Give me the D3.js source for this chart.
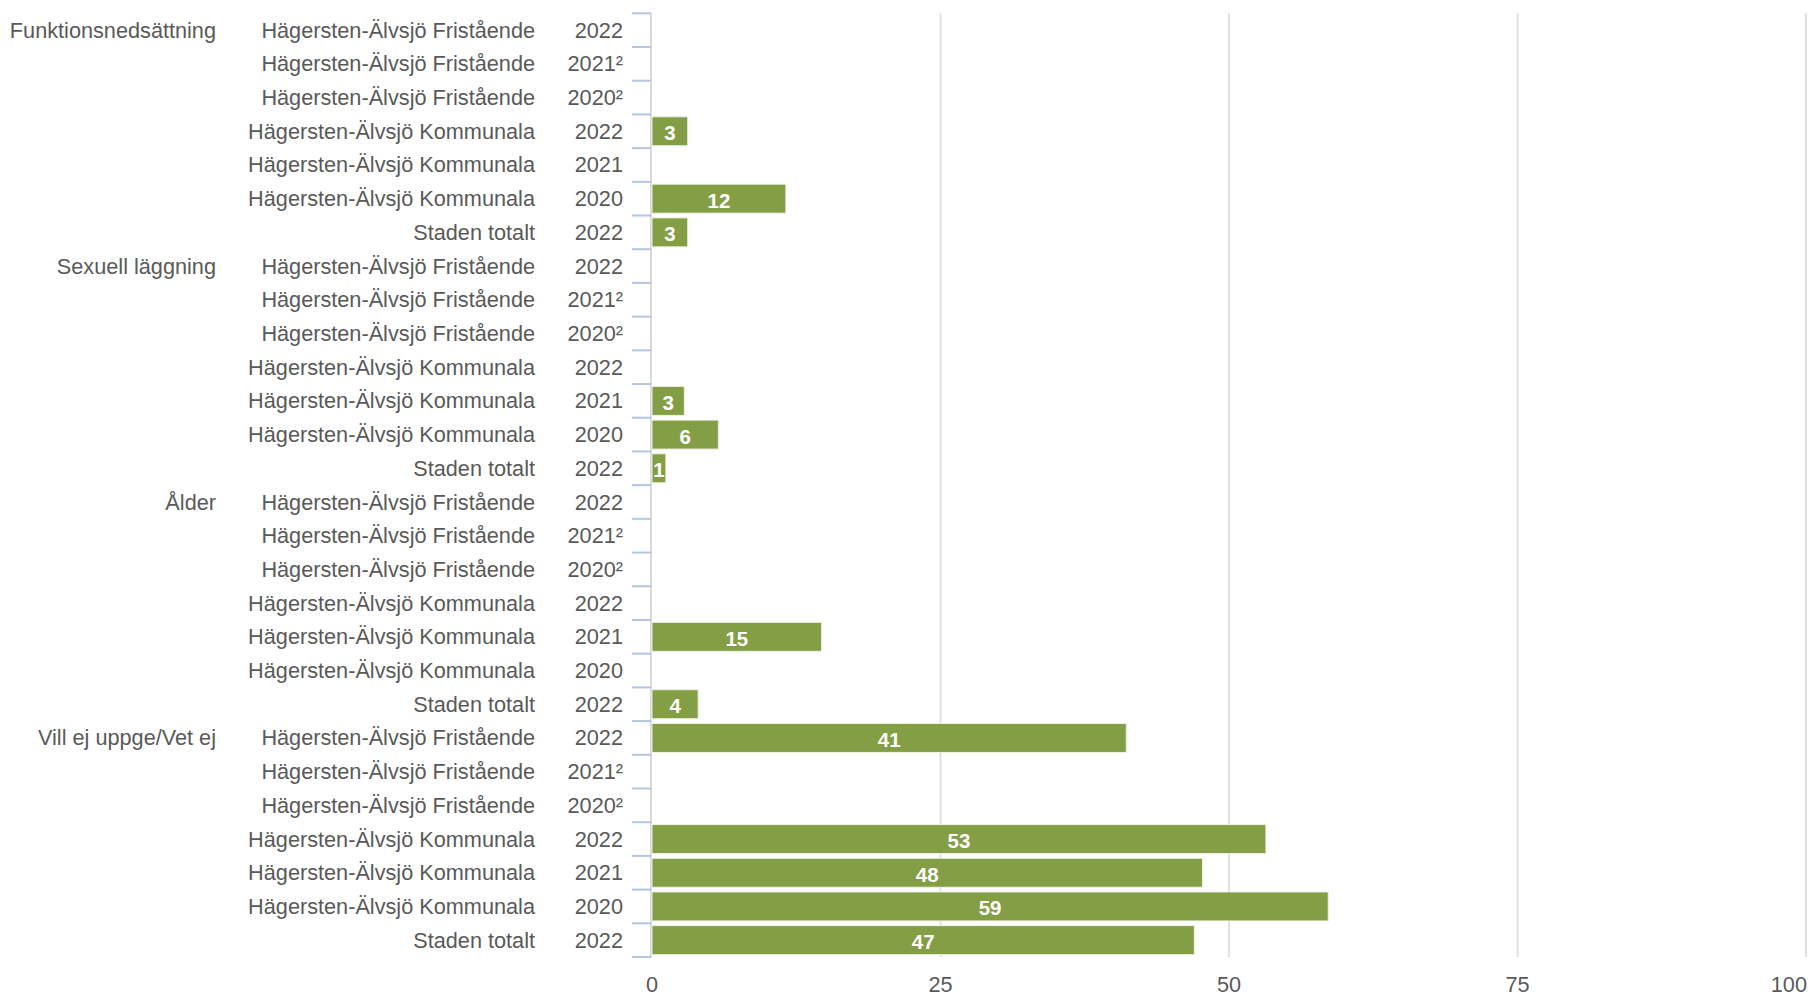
<!DOCTYPE html>
<html>
<head>
<meta charset="utf-8">
<script src="https://cdn.jsdelivr.net/npm/d3@7"></script>
<style>
  html, body { margin: 0; padding: 0; background: #fff; }
  svg text { font-family: Arial, "Liberation Sans", sans-serif; }
</style>
</head>
<body>
<svg id="chart" width="1810" height="997"></svg>
<script>
const groups = ["Funktionsnedsättning", "Sexuell läggning", "Ålder", "Vill ej uppge/Vet ej"];
const units = [
  "Hägersten-Älvsjö Fristående", "Hägersten-Älvsjö Fristående", "Hägersten-Älvsjö Fristående",
  "Hägersten-Älvsjö Kommunala", "Hägersten-Älvsjö Kommunala", "Hägersten-Älvsjö Kommunala",
  "Staden totalt"
];
const years = ["2022", "2021²", "2020²", "2022", "2021", "2020", "2022"];
const valsFunktion = [null, null, null, 3.1, null, 11.6, 3.1];
const valsSexuell  = [null, null, null, null, 2.8, 5.75, 1.2];
const valsAlder    = [null, null, null, null, 14.7, null, 4.0];
const valsVillEj   = [41.1, null, null, 53.2, 47.7, 58.6, 47.0];
const xTicks = [0, 25, 50, 75, 100];

const seriesByGroup = [valsFunktion, valsSexuell, valsAlder, valsVillEj];
const rows = [];
groups.forEach((g, gi) => {
  units.forEach((u, ui) => {
    rows.push({ id: gi + "-" + ui, group: g, first: ui === 0, unit: u, year: years[ui], value: seriesByGroup[gi][ui] });
  });
});

const svg = d3.select("#chart");
const x0 = 652, x1 = 1806;
const yTop = 13.3, yBot = 957;
const x = d3.scaleLinear().domain([0, 100]).range([x0, x1]);
const y = d3.scaleBand().domain(rows.map(d => d.id)).range([yTop, yBot]).paddingInner(0.14).paddingOuter(0.07);
const step = y.step();
const textColor = "#595959";
const fs = 21.7;

// gridlines
svg.append("g").selectAll("line").data(xTicks.filter(t => t > 0)).join("line")
  .attr("x1", d => x(d)).attr("x2", d => x(d))
  .attr("y1", yTop).attr("y2", yBot)
  .attr("stroke", "#e0e0e0").attr("stroke-width", 2);

// x axis tick labels
svg.append("g").selectAll("text").data(xTicks).join("text")
  .attr("x", d => d === 100 ? x(d) + 1 : x(d))
  .attr("y", 984)
  .attr("text-anchor", d => d === 100 ? "end" : "middle")
  .attr("dominant-baseline", "central")
  .attr("font-size", fs)
  .attr("fill", textColor)
  .text(d => d);

// category axis line
svg.append("line").attr("x1", x0 - 1).attr("x2", x0 - 1).attr("y1", yTop).attr("y2", yBot)
  .attr("stroke", "#d9d9d9").attr("stroke-width", 2);

// category tick marks (row boundaries)
const boundaries = d3.range(rows.length + 1).map(i => yTop + i * step);
svg.append("g").selectAll("line").data(boundaries).join("line")
  .attr("x1", x0 - 20).attr("x2", x0 - 1)
  .attr("y1", d => d).attr("y2", d => d)
  .attr("stroke", "#b4c5e4").attr("stroke-width", 2);

// bars
const barData = rows.filter(d => d.value != null);
svg.append("g").selectAll("rect").data(barData).join("rect")
  .attr("x", x(0))
  .attr("y", d => y(d.id))
  .attr("width", d => x(d.value) - x(0))
  .attr("height", y.bandwidth())
  .attr("fill", "#839e45")
  .attr("stroke", "#eef2e3").attr("stroke-width", 1);

// bar value labels
svg.append("g").selectAll("text").data(barData).join("text")
  .attr("x", d => (x(0) + x(d.value)) / 2)
  .attr("y", d => y(d.id) + y.bandwidth() / 2 + 1.5)
  .attr("text-anchor", "middle")
  .attr("dominant-baseline", "central")
  .attr("font-size", 20.5).attr("font-weight", "bold")
  .attr("fill", "#ffffff")
  .text(d => d3.format(".0f")(d.value));

// row labels
const rowMid = d => y(d.id) + y.bandwidth() / 2;
const lbl = svg.append("g").attr("font-size", fs).attr("fill", textColor);
lbl.selectAll("text.year").data(rows).join("text").attr("class", "year")
  .attr("x", 623).attr("y", rowMid).attr("text-anchor", "end").attr("dominant-baseline", "central")
  .text(d => d.year);
lbl.selectAll("text.unit").data(rows).join("text").attr("class", "unit")
  .attr("x", 535).attr("y", rowMid).attr("text-anchor", "end").attr("dominant-baseline", "central")
  .text(d => d.unit);
lbl.selectAll("text.group").data(rows.filter(d => d.first)).join("text").attr("class", "group")
  .attr("x", 216).attr("y", rowMid).attr("text-anchor", "end").attr("dominant-baseline", "central")
  .text(d => d.group);
</script>
</body>
</html>
